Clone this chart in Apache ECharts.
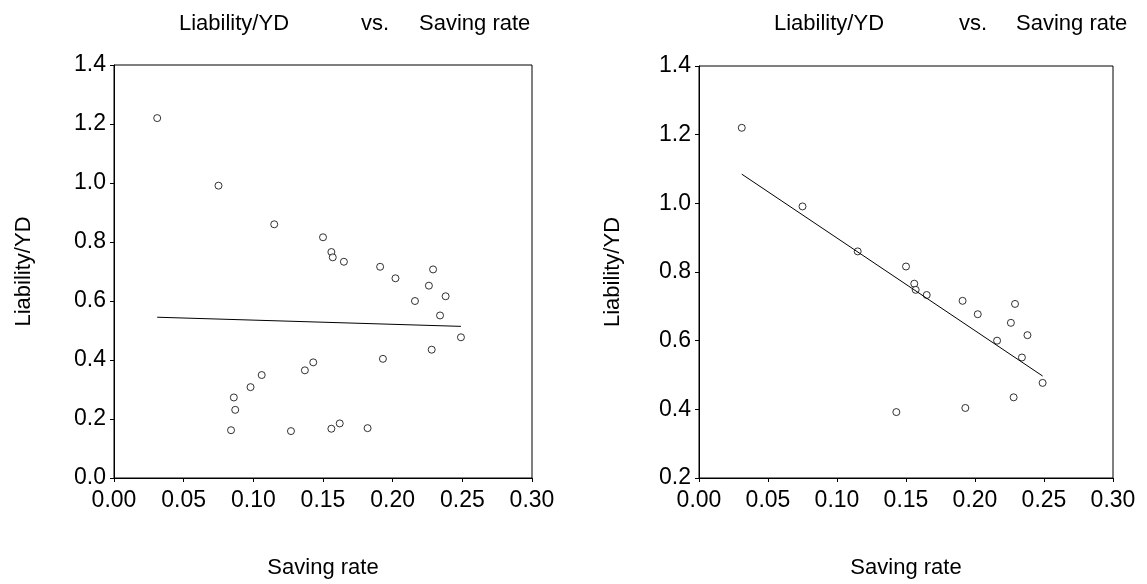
<!DOCTYPE html>
<html>
<head>
<meta charset="utf-8">
<script src="https://cdn.jsdelivr.net/npm/echarts@6/dist/echarts.min.js"></script>
<style>
html,body{margin:0;padding:0;background:#fff;}
#chart{width:1147px;height:584px;}
</style>
</head>
<body>
<div id="chart"></div>
<script>
// Left panel: all observations
const leftSaving = [0.031,0.075,0.115,0.150,0.156,0.157,0.165,0.191,0.202,0.229,0.226,0.216,0.238,0.234,0.249,0.228,0.193,0.143,0.137,0.106,0.098,0.086,0.087,0.084,0.127,0.156,0.162,0.182];
const leftLiability = [1.220,0.991,0.860,0.816,0.766,0.748,0.733,0.716,0.677,0.707,0.652,0.600,0.616,0.551,0.477,0.435,0.404,0.392,0.365,0.349,0.308,0.273,0.231,0.162,0.159,0.167,0.185,0.169];
// Right panel: subset of observations
const rightSaving = [0.031,0.075,0.115,0.150,0.156,0.157,0.165,0.191,0.202,0.229,0.226,0.216,0.238,0.234,0.249,0.228,0.193,0.143];
const rightLiability = [1.220,0.991,0.860,0.816,0.766,0.748,0.733,0.716,0.677,0.707,0.652,0.600,0.616,0.551,0.477,0.435,0.404,0.392];
// Fitted regression line endpoints
const leftFitX = [0.031,0.249];
const leftFitY = [0.545,0.514];
const rightFitX = [0.031,0.249];
const rightFitY = [1.085,0.497];
// Axis ticks
const xTicks = {min:0, max:0.30, interval:0.05};
const leftYTicks = {min:0, max:1.4, interval:0.2};
const rightYTicks = {min:0.2, max:1.4, interval:0.2};
const titleParts = ['Liability/YD','vs.','Saving rate'];
const xName = 'Saving rate';
const yName = 'Liability/YD';

const FONT = 'Liberation Sans, Arial, sans-serif';
const pairs = (xs, ys) => xs.map((x,i)=>[x, ys[i]]);

function xAxis(idx){
  return {
    type:'value', gridIndex:idx, min:xTicks.min, max:xTicks.max, interval:xTicks.interval,
    name:xName, nameLocation:'middle', nameGap:79,
    nameTextStyle:{fontFamily:FONT, fontSize:22, color:'#000'},
    axisLine:{show:true, onZero:false, lineStyle:{color:'#000', width:1}},
    axisTick:{show:true, length:4, lineStyle:{color:'#000'}},
    axisLabel:{fontFamily:FONT, fontSize:23, color:'#000', margin:11, formatter:v=>v.toFixed(2)},
    splitLine:{show:false}
  };
}
function yAxis(idx, t, gap){
  return {
    type:'value', gridIndex:idx, min:t.min, max:t.max, interval:t.interval,
    name:yName, nameLocation:'middle', nameGap:gap, nameRotate:90,
    nameTextStyle:{fontFamily:FONT, fontSize:22, color:'#000'},
    axisLine:{show:true, onZero:false, lineStyle:{color:'#000', width:1}},
    axisTick:{show:true, length:4, lineStyle:{color:'#000'}},
    axisLabel:{fontFamily:FONT, fontSize:23, color:'#000', margin:8, formatter:v=>v.toFixed(1)},
    splitLine:{show:false}
  };
}
const scatterStyle = {
  type:'scatter', symbol:'circle', symbolSize:7,
  itemStyle:{color:'#fff', borderColor:'#000', borderWidth:1},
  silent:true
};
const lineStyle = {
  type:'line', symbol:'none', lineStyle:{color:'#000', width:1}, silent:true
};

function titles(xs){
  return titleParts.map((t,i)=>({
    text:t, left:xs[i], top:8,
    textStyle:{fontFamily:FONT, fontSize:22, fontWeight:'normal', color:'#000'}
  }));
}

const chart = echarts.init(document.getElementById('chart'), null, {renderer:'canvas'});
chart.setOption({
  animation:false,
  backgroundColor:'#fff',
  title: titles([174,356,414]).concat(titles([769,954,1011])),
  grid:[
    {left:114, top:65, width:418, height:413, show:true, borderColor:'#000', borderWidth:1, backgroundColor:'transparent'},
    {left:699, top:66, width:414, height:414, show:true, borderColor:'#000', borderWidth:1, backgroundColor:'transparent'}
  ],
  xAxis:[xAxis(0), xAxis(1)],
  yAxis:[yAxis(0, leftYTicks, 79), yAxis(1, rightYTicks, 75)],
  series:[
    Object.assign({}, lineStyle, {xAxisIndex:0, yAxisIndex:0, data:pairs(leftFitX, leftFitY)}),
    Object.assign({}, scatterStyle, {xAxisIndex:0, yAxisIndex:0, data:pairs(leftSaving, leftLiability)}),
    Object.assign({}, lineStyle, {xAxisIndex:1, yAxisIndex:1, data:pairs(rightFitX, rightFitY)}),
    Object.assign({}, scatterStyle, {xAxisIndex:1, yAxisIndex:1, data:pairs(rightSaving, rightLiability)})
  ]
});
</script>
</body>
</html>
